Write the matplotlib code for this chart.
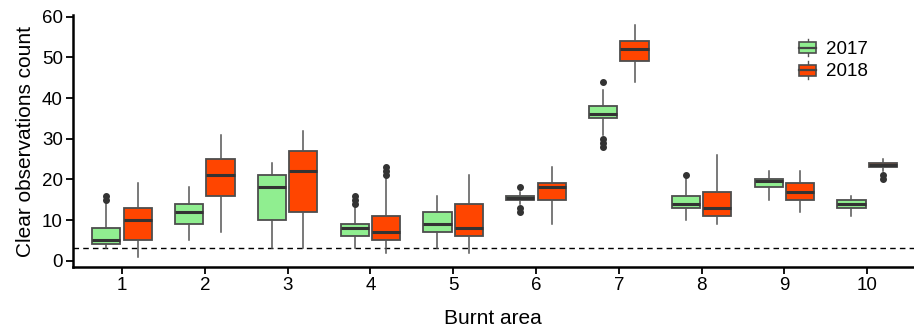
import matplotlib
matplotlib.use('Agg')
import matplotlib.pyplot as plt
from matplotlib.patches import Rectangle
from matplotlib.lines import Line2D
from matplotlib.legend_handler import HandlerBase

plt.rcParams['font.family'] = ['Liberation Sans', 'DejaVu Sans']

areas = [1, 2, 3, 4, 5, 6, 7, 8, 9, 10]

# 2017: whisker low, q1, median, q3, whisker high, outliers
low17 = [3, 5, 3, 3, 3, 14, 31, 10, 15, 11]
q1_17 = [4, 9, 10, 6, 7, 15, 35, 13, 18, 13]
med17 = [5, 12, 18, 8, 9, 15.5, 36, 14, 19.6, 14]
q3_17 = [8, 14, 21, 9, 12, 16, 38, 16, 20, 15]
high17 = [14, 18, 24, 13, 16, 17, 42, 20, 22, 16]
out17 = [[15, 16], [], [], [14, 15, 16], [], [12, 13, 18], [28, 29, 30, 44], [21], [], []]

# 2018
low18 = [1, 7, 3, 2, 2, 9, 44, 9, 12, 22]
q1_18 = [5, 16, 12, 5, 6, 15, 49, 11, 15, 23]
med18 = [10, 21, 22, 7, 8, 18, 52, 13, 17, 23.5]
q3_18 = [13, 25, 27, 11, 14, 19, 54, 17, 19, 24]
high18 = [19, 31, 32, 20, 21, 23, 58, 26, 22, 25]
out18 = [[], [], [], [21, 22, 23], [], [], [], [], [], [20, 21]]

years = ['2017', '2018']
colors = ['#90EE90', '#FF4500']
threshold = 3


def stats(lo, q1, med, q3, hi, out):
    return [dict(whislo=a, q1=b, med=c, q3=d, whishi=e, fliers=f)
            for a, b, c, d, e, f in zip(lo, q1, med, q3, hi, out)]


fig = plt.figure(figsize=(9.14, 3.28), dpi=100)
ax = fig.add_axes([0.0795, 0.186, 0.92, 0.768])

ax.axhline(threshold, color='black', ls=(0, (4, 3)), lw=1, zorder=1)

groups = [stats(low17, q1_17, med17, q3_17, high17, out17),
          stats(low18, q1_18, med18, q3_18, high18, out18)]
offsets = [-0.19, 0.19]
for st, off, col in zip(groups, offsets, colors):
    ax.bxp(st, positions=[a + off for a in areas], widths=0.34,
           patch_artist=True, showcaps=False,
           boxprops=dict(facecolor=col, edgecolor='#4d4d4d', lw=1.3),
           medianprops=dict(color='#333333', lw=2.2),
           whiskerprops=dict(color='#555555', lw=1.1),
           flierprops=dict(marker='o', markerfacecolor='#333333',
                           markeredgecolor='#333333', markersize=4),
           manage_ticks=False, zorder=2)

ax.set_xlim(0.404, 10.56)
ax.set_ylim(-1.55, 60.4)
ax.set_xticks(areas)
ax.set_yticks([0, 10, 20, 30, 40, 50, 60])
ax.tick_params(labelsize=13.5, width=1.3, length=5, pad=2, colors='black')
for s in ['top', 'right']:
    ax.spines[s].set_visible(False)
for s in ['left', 'bottom']:
    ax.spines[s].set_linewidth(1.8)
ax.set_xlabel('Burnt area', fontsize=15, labelpad=11)
ax.set_ylabel('Clear observations count', fontsize=15, labelpad=5)


class BoxHandler(HandlerBase):
    def create_artists(self, legend, orig, xd, yd, w, h, fontsize, trans):
        col = orig.get_facecolor()
        r = Rectangle((xd, yd + 0.05 * h), w, 0.9 * h, facecolor=col,
                      edgecolor='#4d4d4d', lw=1.2, transform=trans)
        m = Line2D([xd, xd + w], [yd + 0.5 * h] * 2, color='#444444', lw=1.6, transform=trans)
        wt = Line2D([xd + w / 2] * 2, [yd + 0.95 * h, yd + 1.2 * h], color='#555555', lw=1, transform=trans)
        wb = Line2D([xd + w / 2] * 2, [yd - 0.2 * h, yd + 0.05 * h], color='#555555', lw=1, transform=trans)
        return [wt, wb, r, m]


handles = [Rectangle((0, 0), 1, 1, facecolor=c) for c in colors]
ax.legend(handles, years, handler_map={Rectangle: BoxHandler()},
          loc='upper left', bbox_to_anchor=(0.864, 0.899), frameon=False,
          fontsize=13.5, handlelength=0.9, handleheight=0.65,
          labelspacing=0.3, handletextpad=0.55, borderaxespad=0, borderpad=0)

fig.savefig('out.png', dpi=100)
